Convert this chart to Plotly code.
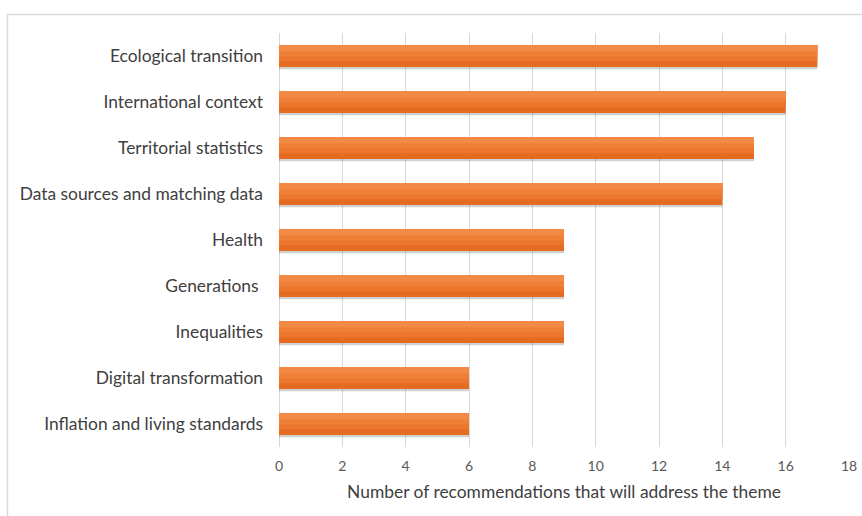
import plotly.graph_objects as go

categories = ["Ecological transition", "International context", "Territorial statistics",
              "Data sources and matching data", "Health", "Generations ", "Inequalities",
              "Digital transformation", "Inflation and living standards"]
values = [17, 16, 15, 14, 9, 9, 9, 6, 6]
x_ticks = [0, 2, 4, 6, 8, 10, 12, 14, 16, 18]
x_title = "Number of recommendations that will address the theme"

W = 0.48
fig = go.Figure()
# shadow
fig.add_trace(go.Bar(y=categories, x=values, orientation="h", width=W, offset=-W/2 + 0.05,
                     marker=dict(color="rgba(0,0,0,0.18)", line=dict(width=0)),
                     hoverinfo="skip", showlegend=False))
# gradient layers (top of screen = lower offset since axis reversed)
bands = [("#E56B20", 1.0), ("#EB762C", 0.75), ("#EF7F37", 0.52), ("#F28A45", 0.3)]
for col, frac in bands:
    fig.add_trace(go.Bar(y=categories, x=values, orientation="h", width=W * frac,
                         offset=-W/2,
                         marker=dict(color=col, line=dict(width=0)),
                         showlegend=False))

fig.update_layout(
    width=862, height=516,
    margin=dict(l=279, r=13, t=33, b=69, autoexpand=False),
    paper_bgcolor="white", plot_bgcolor="white",
    barmode="overlay",
    font=dict(family="Lato, Carlito, Calibri, sans-serif"),
    xaxis=dict(range=[0, 18], tickvals=x_ticks, showgrid=True, gridcolor="#D9D9D9", gridwidth=1,
               zeroline=True, zerolinecolor="#D9D9D9", zerolinewidth=1, automargin=False,
               tickfont=dict(size=14, color="#595959"), ticklabelstandoff=9,
               title=dict(text=x_title, font=dict(size=17.4, color="#404040"), standoff=12),
               showline=False),
    yaxis=dict(autorange="reversed", showgrid=False, tickfont=dict(size=17.4, color="#404040"),
               ticklabelstandoff=15, showline=False, automargin=False),
    shapes=[
        dict(type="line", xref="paper", yref="paper", x0=(8 - 279) / 570, x1=(870 - 279) / 570,
             y0=(447 - 14.5) / 414, y1=(447 - 14.5) / 414, line=dict(color="#D9D9D9", width=1.5)),
        dict(type="line", xref="paper", yref="paper", x0=(7.5 - 279) / 570, x1=(7.5 - 279) / 570,
             y0=(447 - 14) / 414, y1=(447 - 530) / 414, line=dict(color="#D9D9D9", width=1.5)),
    ],
)
fig.write_html("out.html")
